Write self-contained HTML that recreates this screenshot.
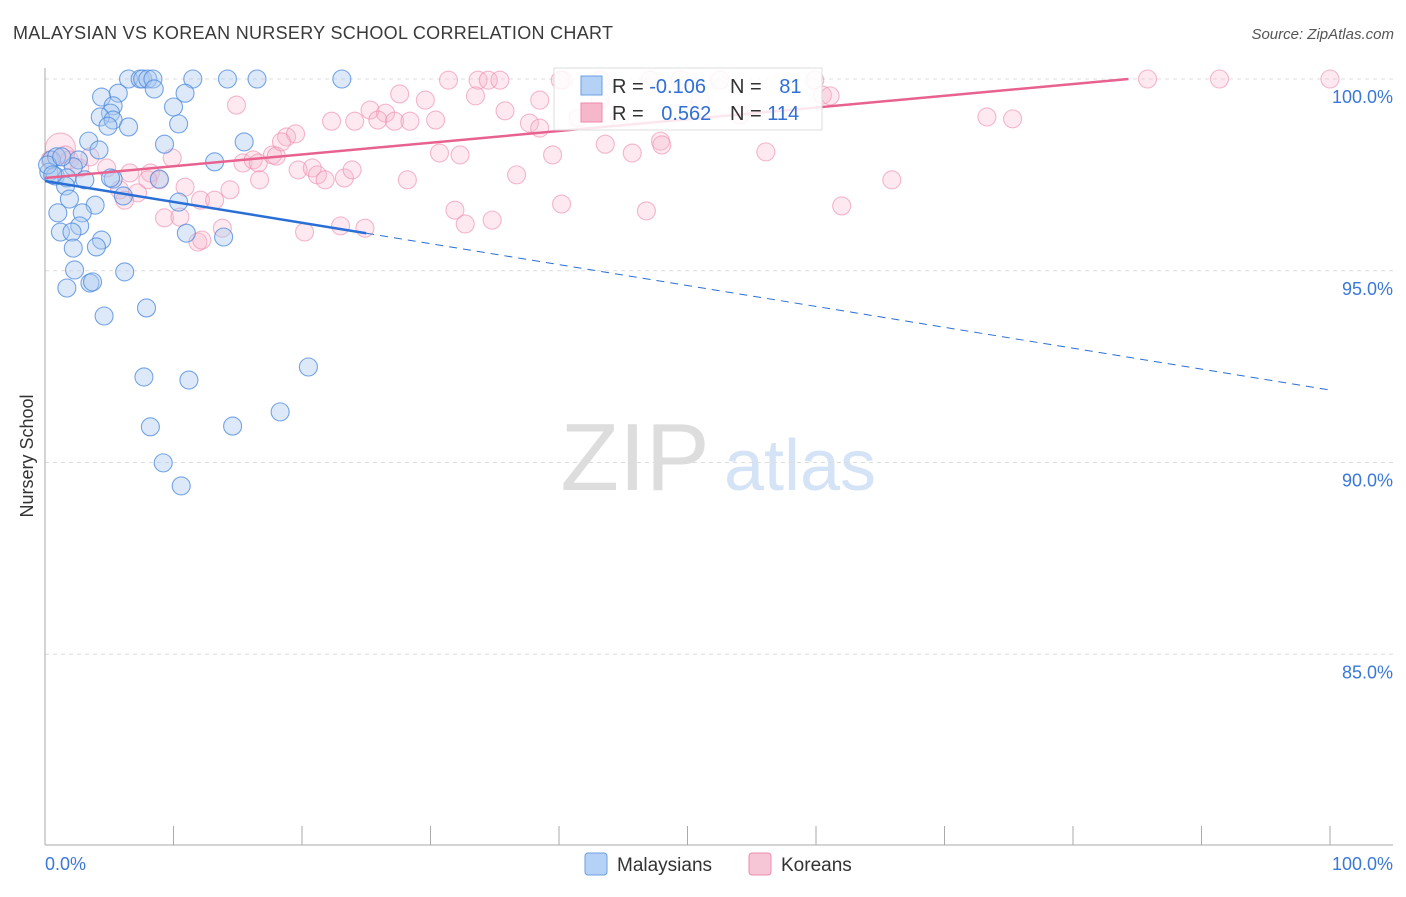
<!DOCTYPE html>
<html><head><meta charset="utf-8">
<style>
body{margin:0;background:#fff;font-family:"Liberation Sans",sans-serif;}
svg text{font-family:"Liberation Sans",sans-serif;}
</style></head>
<body>
<svg id="chart" width="1406" height="892" viewBox="0 0 1406 892" xmlns="http://www.w3.org/2000/svg">
<text x="13" y="39" font-size="18" fill="#3a3a3a" textLength="600">MALAYSIAN VS KOREAN NURSERY SCHOOL CORRELATION CHART</text>
<text x="1394" y="39" font-size="15" fill="#555" font-style="italic" text-anchor="end">Source: ZipAtlas.com</text>
<text x="33" y="456" font-size="18" fill="#333" text-anchor="middle" transform="rotate(-90 33 456)">Nursery School</text>
<g>
<text x="635" y="490" font-size="96" fill="#ddd" font-family="Liberation Serif" text-anchor="middle">ZIP</text>
<text x="800" y="490" font-size="72" fill="#d4e3f5" text-anchor="middle">atlas</text>
</g>
<g id="grid"></g>
<g id="axes"></g>
<g id="pts"></g>
<g id="trends"></g>
<g>
<rect x="554" y="68" width="268" height="62" fill="#fff" fill-opacity="0.85" stroke="#ddd"/>
<rect x="581" y="76" width="21" height="19" fill="#b5d1f5" stroke="#6a9fe0"/>
<rect x="581" y="103" width="21" height="19" fill="#f7b7cb" stroke="#ec8aab"/>
<text x="612" y="93" font-size="20" fill="#333">R = <tspan fill="#2f6fd6">-0.106</tspan></text>
<text x="730" y="93" font-size="20" fill="#333">N = <tspan fill="#2f6fd6" dx="12">81</tspan></text>
<text x="612" y="120" font-size="20" fill="#333">R = <tspan fill="#2f6fd6" dx="12">0.562</tspan></text>
<text x="730" y="120" font-size="20" fill="#333">N = <tspan fill="#2f6fd6">114</tspan></text>
</g>
<g>
<rect x="585" y="853" width="22" height="22" rx="3" fill="#b5d1f5" stroke="#6a9fe0"/>
<text x="617" y="871" font-size="19" fill="#333">Malaysians</text>
<rect x="749" y="853" width="22" height="22" rx="3" fill="#f7c6d6" stroke="#ec8aab"/>
<text x="781" y="871" font-size="19" fill="#333">Koreans</text>
</g>
</svg>
<script>
const yTicks=[100,95,90,85];
const yTickLabels=["100.0%","95.0%","90.0%","85.0%"];
const xTickLabels=["0.0%","100.0%"];
const blueX=[6.5,7.4,7.6,8.0,8.4,11.5,14.2,16.5,23.1,8.5,10.9,5.7,4.4,5.3,5.1,10.0,4.3,5.3,4.9,6.5,10.4,3.4,9.3,15.5,4.2,13.2,0.5,0.9,2.6,2.2,0.3,0.8,1.7,5.3,8.9,3.1,1.6,6.1,3.9,1.9,1.0,2.9,2.7,1.2,2.1,10.4,11.0,13.9,4.4,4.0,2.2,2.3,6.2,3.5,3.7,1.7,4.6,7.9,20.5,7.7,11.2,18.3,8.2,14.6,9.2,10.6,0.2,0.6,1.3,5.1];
const blueY=[100,100,100,100,100,100,100,100,100,99.74,99.63,99.63,99.53,99.3,99.11,99.27,99.01,98.93,98.77,98.75,98.83,98.38,98.3,98.36,98.15,97.84,97.89,97.97,97.89,97.71,97.57,97.47,97.42,97.39,97.39,97.37,97.21,96.95,96.71,96.87,96.51,96.51,96.17,96.01,96.01,96.79,95.98,95.88,95.8,95.62,95.59,95.02,94.97,94.68,94.71,94.55,93.82,94.03,92.49,92.23,92.15,91.32,90.93,90.95,89.99,89.39,97.76,97.5,97.97,97.42];
const pinkX=[1.2,0.4,1.6,1.9,2.7,3.5,4.8,6.6,8.2,8.9,8.0,9.9,5.8,7.2,6.2,10.9,12.1,14.4,13.2,9.3,10.5,13.8,11.9,12.2,14.9,15.4,16.2,16.6,17.7,18.0,18.8,19.5,18.4,16.7,19.7,20.8,21.2,21.8,23.3,23.9,20.2,23.0,24.9,22.3,24.1,25.3,26.5,25.9,27.6,27.2,28.4,29.6,30.4,30.7,32.3,28.2,31.4,33.7,34.5,35.4,33.5,35.8,37.7,38.5,38.5,36.7,31.9,32.7,34.8,39.5,40.3,40.2,41.5,43.6,45.7,44.7,46.8,47.9,48.0,50.2,51.0,52.5,54.1,56.1,59.9,60.5,61.1,62.0,65.9,73.3,75.3,85.8,91.4,100,43.2,47.1,49.4,43.2,40.1];
const pinkY=[98.2,97.89,98.02,97.89,97.68,97.97,97.68,97.55,97.55,97.37,97.37,97.94,97.11,97.03,96.84,97.18,96.84,97.11,96.84,96.38,96.4,96.11,95.75,95.8,99.32,97.81,97.89,97.81,98.02,97.99,98.49,98.57,98.36,97.37,97.63,97.68,97.5,97.37,97.42,97.63,96.01,96.17,96.11,98.9,98.9,99.19,99.11,98.93,99.61,98.9,98.9,99.45,98.93,98.07,98.02,97.37,99.97,99.97,99.97,99.97,99.56,99.17,98.85,98.72,99.45,97.5,96.58,96.22,96.32,98.02,99.97,96.74,98.98,98.3,98.07,98.98,96.56,98.38,98.28,99.19,99.45,99.97,99.06,98.1,99.97,99.58,99.56,96.69,97.37,99.01,98.96,100,100,100,99.45,99.97,99.97,99.97,99.97];
const blueTrend=[97.34,91.89];
const pinkTrend=[97.42,100.48];

const NS="http://www.w3.org/2000/svg";
const X0=45,X1=1330,YT=79,PX=38.35;
const sx=v=>X0+(X1-X0)*v/100;
const sy=v=>YT+(100-v)*PX;
function mk(tag,attrs,parent){const e=document.createElementNS(NS,tag);for(const k in attrs)e.setAttribute(k,attrs[k]);parent.appendChild(e);return e;}
const grid=document.getElementById('grid'),axes=document.getElementById('axes'),pts=document.getElementById('pts'),tr=document.getElementById('trends');
yTicks.forEach((t,i)=>{
 const l=mk('line',{x1:X0,x2:1393,y1:sy(t),y2:sy(t),stroke:'#ddd','stroke-dasharray':'4,4'},grid);
 
 
 const tx=mk('text',{x:1393,y:sy(t)+24,'font-size':18,fill:'#3a78d8','text-anchor':'end'},axes);
 tx.textContent=yTickLabels[i];
 
 
});
const ya=mk('line',{x1:X0,x2:X0,y1:68,y2:845,stroke:'#aaa'},axes);


const xa=mk('line',{x1:X0,x2:1393,y1:845,y2:845,stroke:'#aaa'},axes);


for(let i=0;i<=10;i++){
 const t=mk('line',{x1:sx(i*10),x2:sx(i*10),y1:826,y2:845,stroke:'#aaa'},axes);
 
 
}
[[0,'start',45],[100,'end',1393]].forEach((d,i)=>{
 const tx=mk('text',{x:d[2],y:870,'font-size':18,fill:'#3a78d8','text-anchor':d[1]},axes);
 tx.textContent=xTickLabels[i];
 
 
});
pinkX.forEach((x,i)=>{
 const c=mk('circle',{cx:sx(x),cy:sy(pinkY[i]),r:i===0?15:9,fill:'#f7b7cb','fill-opacity':0.3,stroke:'#ec8aab','stroke-opacity':0.6,'stroke-width':1.1},pts);
 
 
});
blueX.forEach((x,i)=>{
 const c=mk('circle',{cx:sx(x),cy:sy(blueY[i]),r:9,fill:'#a9c8f0','fill-opacity':0.4,stroke:'#4a88dd','stroke-opacity':0.75,'stroke-width':1.1},pts);
 
 
});
const by=x=>blueTrend[0]+(blueTrend[1]-blueTrend[0])*x/100;
const b1=mk('line',{x1:sx(0),y1:sy(by(0)),x2:sx(25),y2:sy(by(25)),stroke:'#2a6fd6','stroke-width':2.5},tr);


const b2=mk('line',{x1:sx(25),y1:sy(by(25)),x2:sx(100),y2:sy(by(100)),stroke:'#2a6fd6','stroke-width':1,'stroke-dasharray':'8,6'},tr);


const slope=(pinkTrend[1]-pinkTrend[0])/100;
const xEnd=Math.min(100,(100-pinkTrend[0])/slope);
const p1=mk('line',{x1:sx(0),y1:sy(pinkTrend[0]),x2:sx(xEnd),y2:sy(pinkTrend[0]+slope*xEnd),stroke:'#e8628f','stroke-width':2.5},tr);


</script>
</body></html>
